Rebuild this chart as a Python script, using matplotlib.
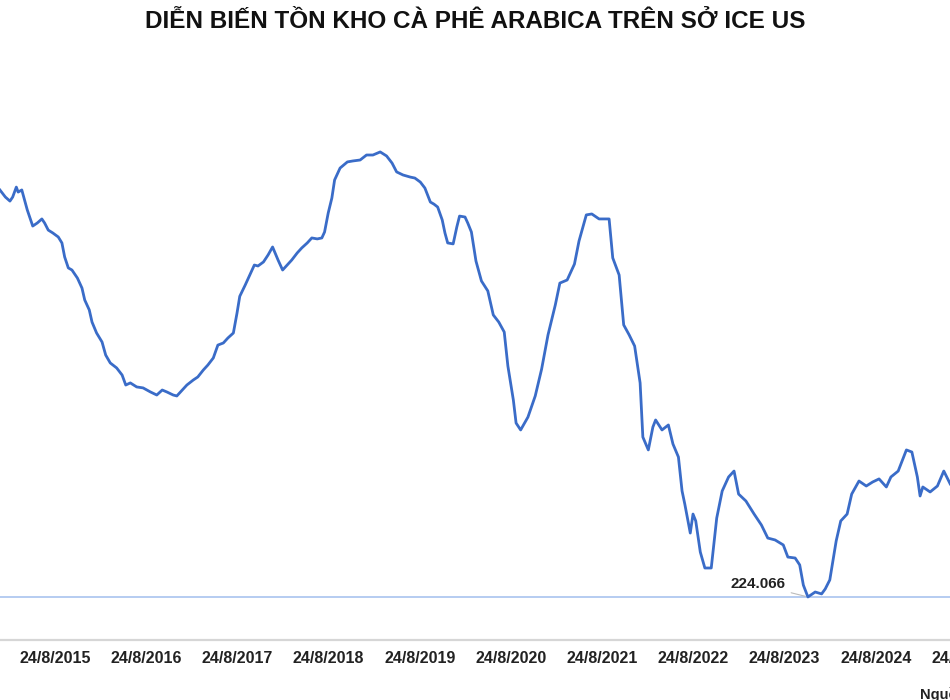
import matplotlib
matplotlib.use("Agg")
import matplotlib.pyplot as plt

plt.rcParams['font.family'] = ['Liberation Sans', 'DejaVu Sans']

# weekly certified arabica stocks on ICE US, thousand bags
years = [2015.04, 2015.10, 2015.15, 2015.18, 2015.22, 2015.24, 2015.28, 2015.34, 2015.37, 2015.40,
         2015.45, 2015.50, 2015.53, 2015.57, 2015.62, 2015.68, 2015.72, 2015.75, 2015.79, 2015.83,
         2015.89, 2015.94, 2015.97, 2016.02, 2016.05, 2016.10, 2016.16, 2016.20, 2016.25, 2016.32,
         2016.38, 2016.42, 2016.47, 2016.54, 2016.61, 2016.69, 2016.76, 2016.82, 2016.87, 2016.94,
         2016.98, 2017.04, 2017.09, 2017.16, 2017.21, 2017.27, 2017.32, 2017.38, 2017.43, 2017.49,
         2017.54, 2017.60, 2017.64, 2017.67, 2017.73, 2017.78, 2017.83, 2017.87, 2017.93, 2017.98,
         2018.03, 2018.09, 2018.14, 2018.19, 2018.24, 2018.30, 2018.35, 2018.41, 2018.46, 2018.52,
         2018.57, 2018.60, 2018.64, 2018.68, 2018.71, 2018.77, 2018.85, 2018.91, 2018.99, 2019.06,
         2019.13, 2019.21, 2019.28, 2019.34, 2019.39, 2019.46, 2019.54, 2019.59, 2019.65, 2019.70,
         2019.76, 2019.80, 2019.84, 2019.89, 2019.92, 2019.95, 2020.01, 2020.05, 2020.08, 2020.14,
         2020.17, 2020.21, 2020.26, 2020.32, 2020.39, 2020.45, 2020.51, 2020.57, 2020.61, 2020.67,
         2020.70, 2020.75, 2020.83, 2020.91, 2020.98, 2021.05, 2021.13, 2021.18, 2021.26, 2021.34,
         2021.39, 2021.47, 2021.53, 2021.61, 2021.72, 2021.76, 2021.83, 2021.88, 2021.94, 2022.00,
         2022.06, 2022.09, 2022.15, 2022.20, 2022.23, 2022.30, 2022.37, 2022.42, 2022.48, 2022.52,
         2022.55, 2022.61, 2022.64, 2022.67, 2022.72, 2022.77, 2022.84, 2022.90, 2022.96, 2023.03,
         2023.09, 2023.14, 2023.22, 2023.31, 2023.39, 2023.46, 2023.54, 2023.63, 2023.68, 2023.76,
         2023.81, 2023.85, 2023.90, 2023.98, 2024.05, 2024.09, 2024.14, 2024.21, 2024.26, 2024.33,
         2024.38, 2024.46, 2024.54, 2024.61, 2024.68, 2024.76, 2024.81, 2024.89, 2024.92, 2024.98,
         2025.04, 2025.10, 2025.13, 2025.16, 2025.24, 2025.32, 2025.39, 2025.46]
stocks = [2344, 2307, 2286, 2307, 2359, 2333, 2344, 2240, 2198, 2156,
          2172, 2193, 2172, 2135, 2120, 2099, 2068, 1995, 1938, 1927,
          1885, 1833, 1771, 1719, 1656, 1599, 1552, 1484, 1443, 1417,
          1380, 1328, 1339, 1318, 1313, 1292, 1276, 1302, 1292, 1276,
          1271, 1302, 1328, 1354, 1370, 1406, 1432, 1469, 1536, 1547,
          1573, 1599, 1703, 1790, 1849, 1901, 1953, 1948, 1969, 2005,
          2047, 1979, 1927, 1953, 1979, 2016, 2042, 2068, 2094, 2089,
          2094, 2125, 2224, 2302, 2396, 2458, 2490, 2495, 2500, 2526,
          2526, 2542, 2521, 2484, 2438, 2422, 2411, 2406, 2385, 2354,
          2281, 2270, 2255, 2188, 2120, 2068, 2063, 2151, 2208, 2203,
          2172, 2125, 1974, 1870, 1818, 1693, 1656, 1604, 1427, 1250,
          1130, 1094, 1161, 1271, 1411, 1589, 1745, 1859, 1875, 1958,
          2078, 2214, 2219, 2193, 2193, 1990, 1901, 1641, 1589, 1531,
          1339, 1057, 990, 1109, 1146, 1094, 1120, 1021, 953, 776,
          708, 557, 656, 620, 458, 375, 375, 635, 776, 849,
          880, 760, 724, 656, 599, 531, 521, 495, 432, 427,
          391, 286, 224.066, 250, 240, 266, 313, 516, 620, 656,
          760, 828, 802, 823, 839, 797, 849, 880, 917, 990,
          979, 849, 750, 797, 771, 802, 880, 813]

tick_years = [2015, 2016, 2017, 2018, 2019, 2020, 2021, 2022, 2023, 2024, 2025]
tick_pos = [y + 0.644 for y in tick_years]   # 24 August of each year
tick_labels = ["24/8/%d" % y for y in tick_years]

title = "DIỄN BIẾN TỒN KHO CÀ PHÊ ARABICA TRÊN SỞ ICE US"
source = "Nguồn: ICE US"

fig = plt.figure(figsize=(9.5, 7), dpi=100)
ax = fig.add_axes([0, 60 / 700, 1, 540 / 700])

ax.plot(years, stocks, color='#3a6cc8', lw=2.0, solid_joinstyle='round')

low = min(stocks)
low_x = years[stocks.index(low)]
ax.axhline(low, color='#a9c4ef', lw=1.2, zorder=1)
ax.annotate(f"{low * 1000:,.0f}".replace(',', '.'), xy=(low_x, low),
            xytext=(-16, 9), textcoords='offset points', ha='right', va='center',
            fontsize=11, fontweight='bold', color='#222222',
            arrowprops=dict(arrowstyle='-', color='#bbbbbb', lw=0.8))

ax.set_xlim(2015.041, 2025.458)
ax.set_ylim(0, 2812.5)

for s in ['top', 'left', 'right']:
    ax.spines[s].set_visible(False)
ax.spines['bottom'].set_color('#d6d6d6')
ax.spines['bottom'].set_linewidth(1.6)
ax.set_yticks([])
ax.set_xticks(tick_pos[:-1])
ax.set_xticklabels(tick_labels[:-1], fontsize=11.5, fontweight='bold', color='#222222')
ax.tick_params(axis='x', length=0, pad=8)
# the last label sits past the right edge, only its start shows
ax.annotate(tick_labels[-1], xy=(tick_pos[-1], 0), xycoords=ax.get_xaxis_transform(),
            xytext=(0, -8), textcoords='offset points', ha='center', va='top',
            fontsize=11.5, fontweight='bold', color='#222222', annotation_clip=False)

fig.text(0.5, 1 - 22 / 700, title, ha='center', va='center',
         fontsize=17.5, fontweight='bold', color='#111111')
fig.text(920 / 950, 1 - 695 / 700, source, ha='left', va='center',
         fontsize=10.5, fontweight='bold', color='#222222')

fig.savefig("out.png", dpi=100)
